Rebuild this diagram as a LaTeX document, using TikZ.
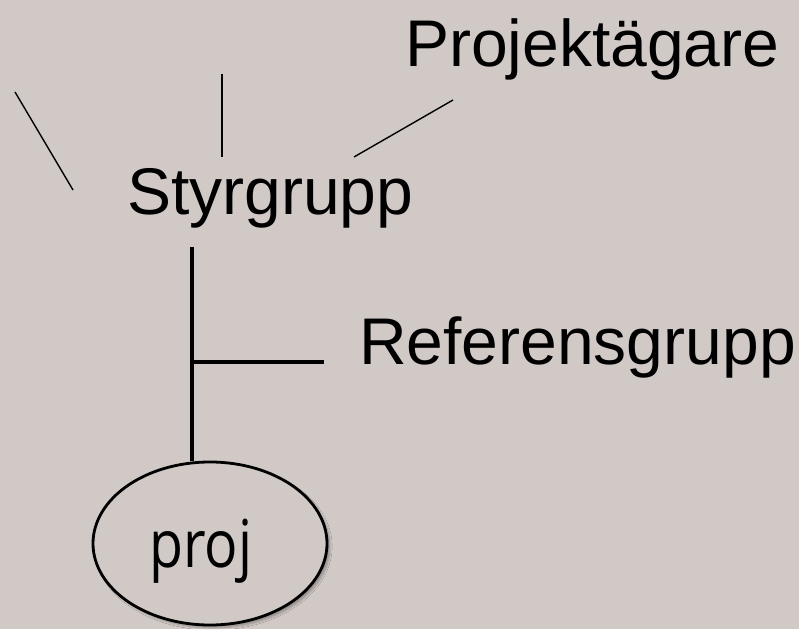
\documentclass[tikz,border=0pt]{standalone}
\usepackage{fontspec}
\setmainfont{Liberation Sans}
\newfontfamily\projfont{Open Sans}
\usetikzlibrary{shapes.geometric,shadows.blur}
\definecolor{bgcol}{RGB}{209,201,198}
\tikzset{
  lbl/.style={inner sep=0pt, anchor=base west, font=\fontsize{66}{70}\selectfont},
  thin/.style={line width=1.4pt, black},
  thick/.style={line width=4.5pt, black},
}
\begin{document}
\begin{tikzpicture}[x=1pt,y=1pt]
\fill[bgcol] (0,0) rectangle (799,629);
\useasboundingbox (0,0) rectangle (799,629);
% labels
\node[lbl] (owner) at (405,562) {Projektägare};
\node[lbl] (styr) at (127,414) {Styrgrupp};
\node[lbl] (ref) at (359,264) {Referensgrupp};
% ellipse
\node[ellipse, draw=black, fill=bgcol, line width=2.8pt, minimum width=234pt, minimum height=163pt, inner sep=0pt,
      blur shadow={shadow xshift=3pt, shadow yshift=-3pt, shadow blur steps=6, shadow opacity=30}] (proj) at (210,85.5) {};
\node[inner sep=0pt, anchor=base, xscale=0.84, font=\projfont\fontsize{66}{70}\selectfont] (projtext) at (201,62) {proj};
% thin lines
\coordinate (a1) at (15,537);
\coordinate (a2) at (73,439);
\coordinate (b1) at (222,555);
\coordinate (b2) at (222,472);
\coordinate (c1) at (354,472);
\coordinate (c2) at (453,529);
\draw[thin] (a1) -- (a2);
\draw[thin] (b1) -- (b2);
\draw[thin] (c1) -- (c2);
% thick tree
\coordinate (t1) at (192,382);
\coordinate (t2) at (192,267);
\coordinate (t3) at (324,267);
\draw[thick] (t1) -- (t1 |- proj.north);
\draw[thick] (t2) -- (t3);
\end{tikzpicture}
\end{document}
